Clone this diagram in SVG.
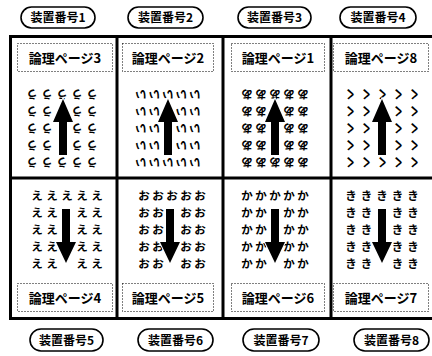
<svg xmlns="http://www.w3.org/2000/svg" width="432" height="356" viewBox="0 0 432 356">
<defs>
<style>
.oval{fill:#fff;stroke:#000;stroke-width:1.6}
.olab{font-family:"Noto Sans CJK JP","Noto Sans",sans-serif;font-size:12px;font-weight:bold;fill:#000;text-anchor:middle}
.plab{font-family:"Noto Sans CJK JP","Noto Sans",sans-serif;font-size:13px;font-weight:bold;fill:#000;text-anchor:middle}
.dot{fill:#fff;stroke:#000;stroke-width:1;stroke-dasharray:1 2}
.frame{fill:none;stroke:#000;stroke-width:3}
.div{stroke:#000;stroke-width:3}
.ch{font-family:"Noto Sans CJK JP","Noto Sans",sans-serif;font-size:11.5px;font-weight:bold;fill:#000;text-anchor:middle}
.arr{fill:#000;stroke:#fff;stroke-width:2;paint-order:stroke}
</style>
</defs>
<rect width="432" height="356" fill="#fff"/>
<g id="frame">
<rect class="frame" x="10.5" y="36.5" width="430" height="282"/>
<line class="div" x1="117" y1="36" x2="117" y2="319"/>
<line class="div" x1="223" y1="36" x2="223" y2="319"/>
<line class="div" x1="331" y1="36" x2="331" y2="319"/>
<line class="div" x1="10" y1="178" x2="432" y2="178"/>
</g>
<g id="dev1"><rect class="oval" x="21" y="7" width="74" height="21" rx="10.5"/><text class="olab" x="58" y="22">装置番号1</text></g>
<g id="dev2"><rect class="oval" x="128" y="7" width="75" height="21" rx="10.5"/><text class="olab" x="165.5" y="22">装置番号2</text></g>
<g id="dev3"><rect class="oval" x="238" y="7" width="73" height="21" rx="10.5"/><text class="olab" x="274.5" y="22">装置番号3</text></g>
<g id="dev4"><rect class="oval" x="340" y="7" width="76" height="21" rx="10.5"/><text class="olab" x="378" y="22">装置番号4</text></g>
<g id="dev5"><rect class="oval" x="30" y="329" width="73" height="22" rx="11"/><text class="olab" x="66.5" y="344.5">装置番号5</text></g>
<g id="dev6"><rect class="oval" x="138" y="329" width="75" height="22" rx="11"/><text class="olab" x="175.5" y="344.5">装置番号6</text></g>
<g id="dev7"><rect class="oval" x="243" y="329" width="76" height="22" rx="11"/><text class="olab" x="281" y="344.5">装置番号7</text></g>
<g id="dev8"><rect class="oval" x="354" y="329" width="75" height="22" rx="11"/><text class="olab" x="391.5" y="344.5">装置番号8</text></g>
<g id="page3">
<rect class="dot" x="17.5" y="43.5" width="95" height="28"/><text class="plab" x="65" y="62.5">論理ページ3</text>
<text class="ch" transform="rotate(180 62 128)"><tspan x="32 47 62 77 92" y="98.4">ううううう</tspan><tspan x="32 47 77 92" y="115.4">うううう</tspan><tspan x="32 47 77 92" y="132.4">うううう</tspan><tspan x="32 47 77 92" y="149.4">うううう</tspan><tspan x="32 47 62 77 92" y="166.4">ううううう</tspan></text>
<polygon class="arr" points="63,99 73,122 67,122 67,155 59,155 59,122 53,122"/>
</g>
<g id="page2">
<rect class="dot" x="122.5" y="43.5" width="91" height="28"/><text class="plab" x="168" y="62.5">論理ページ2</text>
<text class="ch" transform="rotate(180 168 128)"><tspan x="141 154.5 168 181.5 195" y="98.4">いいいいい</tspan><tspan x="141 154.5 181.5 195" y="115.4">いいいい</tspan><tspan x="141 154.5 181.5 195" y="132.4">いいいい</tspan><tspan x="141 154.5 181.5 195" y="149.4">いいいい</tspan><tspan x="141 154.5 168 181.5 195" y="166.4">いいいいい</tspan></text>
<polygon class="arr" points="168,99 178,122 172,122 172,155 164,155 164,122 158,122"/>
</g>
<g id="page1">
<rect class="dot" x="231.5" y="43.5" width="93" height="28"/><text class="plab" x="278" y="62.5">論理ページ1</text>
<text class="ch" transform="rotate(180 275 128)"><tspan x="247 261 275 289 303" y="98.4">あああああ</tspan><tspan x="247 261 289 303" y="115.4">ああああ</tspan><tspan x="247 261 289 303" y="132.4">ああああ</tspan><tspan x="247 261 289 303" y="149.4">ああああ</tspan><tspan x="247 261 275 289 303" y="166.4">あああああ</tspan></text>
<polygon class="arr" points="275,99 285,122 279,122 279,155 271,155 271,122 265,122"/>
</g>
<g id="page8">
<rect class="dot" x="333.5" y="43.5" width="95" height="28"/><text class="plab" x="381" y="62.5">論理ページ8</text>
<text class="ch" transform="rotate(180 382 128)"><tspan x="350 366 382 398 414" y="98.4">くくくくく</tspan><tspan x="350 366 398 414" y="115.4">くくくく</tspan><tspan x="350 366 398 414" y="132.4">くくくく</tspan><tspan x="350 366 398 414" y="149.4">くくくく</tspan><tspan x="350 366 382 398 414" y="166.4">くくくくく</tspan></text>
<polygon class="arr" points="382,99 392,122 386,122 386,155 378,155 378,122 372,122"/>
</g>
<g id="page4">
<rect class="dot" x="17.5" y="283.5" width="95" height="28"/><text class="plab" x="65" y="302.5">論理ページ4</text>
<text class="ch"><tspan x="37 52 67 82 97" y="200.4">えええええ</tspan><tspan x="37 52 82 97" y="217.4">ええええ</tspan><tspan x="37 52 82 97" y="234.4">ええええ</tspan><tspan x="37 52 82 97" y="251.4">ええええ</tspan><tspan x="37 52 82 97" y="268.4">ええええ</tspan></text>
<polygon class="arr" points="62,209 70,209 70,242 76,242 66,263 56,242 62,242"/>
</g>
<g id="page5">
<rect class="dot" x="122.5" y="283.5" width="91" height="28"/><text class="plab" x="168" y="302.5">論理ページ5</text>
<text class="ch"><tspan x="144 158 172 186 200" y="200.4">おおおおお</tspan><tspan x="144 158 186 200" y="217.4">おおおお</tspan><tspan x="144 158 186 200" y="234.4">おおおお</tspan><tspan x="144 158 186 200" y="251.4">おおおお</tspan><tspan x="144 158 186 200" y="268.4">おおおお</tspan></text>
<polygon class="arr" points="166,209 174,209 174,242 180,242 170,263 160,242 166,242"/>
</g>
<g id="page6">
<rect class="dot" x="231.5" y="283.5" width="93" height="28"/><text class="plab" x="278" y="302.5">論理ページ6</text>
<text class="ch"><tspan x="247 261 275 289 303" y="200.4">かかかかか</tspan><tspan x="247 261 289 303" y="217.4">かかかか</tspan><tspan x="247 261 289 303" y="234.4">かかかか</tspan><tspan x="247 261 289 303" y="251.4">かかかか</tspan><tspan x="247 261 289 303" y="268.4">かかかか</tspan></text>
<polygon class="arr" points="271,209 279,209 279,242 285,242 275,263 265,242 271,242"/>
</g>
<g id="page7">
<rect class="dot" x="333.5" y="283.5" width="95" height="28"/><text class="plab" x="381" y="302.5">論理ページ7</text>
<text class="ch"><tspan x="351 366.5 382 397.5 413" y="200.4">ききききき</tspan><tspan x="351 366.5 397.5 413" y="217.4">きききき</tspan><tspan x="351 366.5 397.5 413" y="234.4">きききき</tspan><tspan x="351 366.5 397.5 413" y="251.4">きききき</tspan><tspan x="351 366.5 397.5 413" y="268.4">きききき</tspan></text>
<polygon class="arr" points="378,209 386,209 386,242 392,242 382,263 372,242 378,242"/>
</g>
</svg>
